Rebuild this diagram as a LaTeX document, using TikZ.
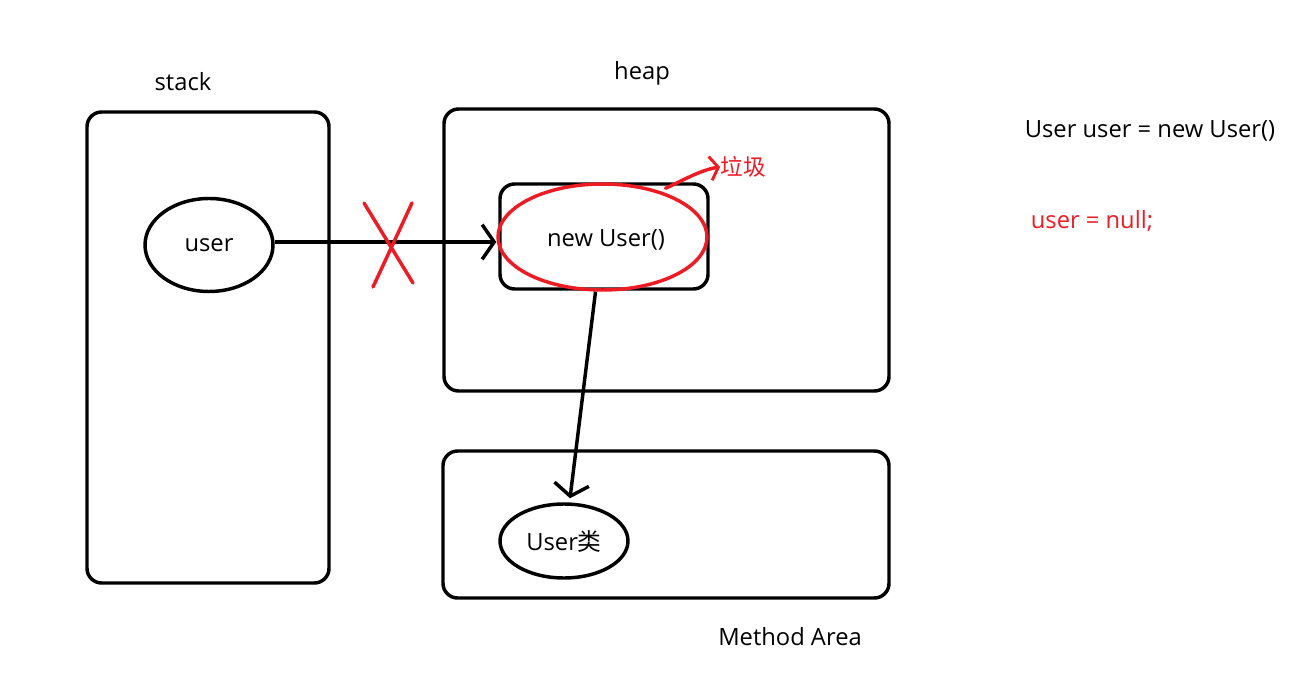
\documentclass[tikz,border=0pt]{standalone}
\usepackage{fontspec}
\setmainfont{Open Sans}
\newfontfamily\cjk{Noto Sans CJK SC}
\usetikzlibrary{arrows.meta,shapes.geometric,calc}
\definecolor{myred}{RGB}{237,28,36}
\begin{document}
\begin{tikzpicture}[x=0.75pt,y=-0.75pt,
  box/.style={draw,line width=2.6pt,rounded corners=11pt,inner sep=0pt},
  oval/.style={draw,ellipse,line width=2.6pt,inner sep=0pt,font=\fontsize{17.8}{21}\selectfont},
  lbl/.style={font=\fontsize{17.8}{21}\selectfont,inner sep=0pt},
  conn/.style={line width=2.6pt,-{Straight Barb[length=9pt,width=26pt,line width=2.6pt]}},
  redline/.style={myred,line width=2.6pt,line cap=round}]
\useasboundingbox (0,0) rectangle (1316,698);
% boxes
\node[box,minimum width=242*0.75pt,minimum height=471*0.75pt] (stack) at (208,347.5) {};
\node[box,minimum width=445*0.75pt,minimum height=282*0.75pt] (heap) at (666.5,250) {};
\node[box,minimum width=446*0.75pt,minimum height=147*0.75pt] (method) at (666,524.5) {};
\node[box,minimum width=208*0.75pt,minimum height=105*0.75pt] (inner) at (604,236.5) {};
% labels
\node[lbl] (stackl) at (183,82) {stack};
\node[lbl] (heapl) at (642,73) {heap};
\node[lbl] (methodl) at (790,637) {Method Area};
\node[lbl] (code1) at (1150,131) {User user = new User()};
\node[lbl,text=myred] (code2) at (1092,221) {user = null;};
% ovals
\node[oval,minimum width=128*0.75pt,minimum height=93*0.75pt] (user) at (209,245) {user};
\node[lbl] (newuser) at (606,240) {new User()};
\node[draw=myred,ellipse,line width=2.6pt,minimum width=209*0.75pt,minimum height=106*0.75pt] (gc) at (602.5,237) {};
\node[oval,minimum width=128*0.75pt,minimum height=74*0.75pt] (cls) at (564,541) {User{\cjk 类}};
\node[lbl,text=myred,font={\cjk\fontsize{17}{20}\selectfont}] (trash) at (743,167) {垃圾};
% connectors
\coordinate (ustart) at ($(user.east)+(0,-3)$);
\draw[conn] (ustart) -- (ustart -| gc.west);
\draw[conn] ($(gc.south)+(-7,0)$) -- ($(cls.north)+(6,-4)$);
\draw[redline,-{Straight Barb[length=6pt,width=18pt,line width=2.2pt]}]
  ($(gc.north)+(63,6)$) .. controls (680,182) and (700,170) .. (trash.west);
% red X
\draw[redline] (364,203) -- (413,283);
\draw[redline] (412,203) -- (373,287);
\end{tikzpicture}
\end{document}
